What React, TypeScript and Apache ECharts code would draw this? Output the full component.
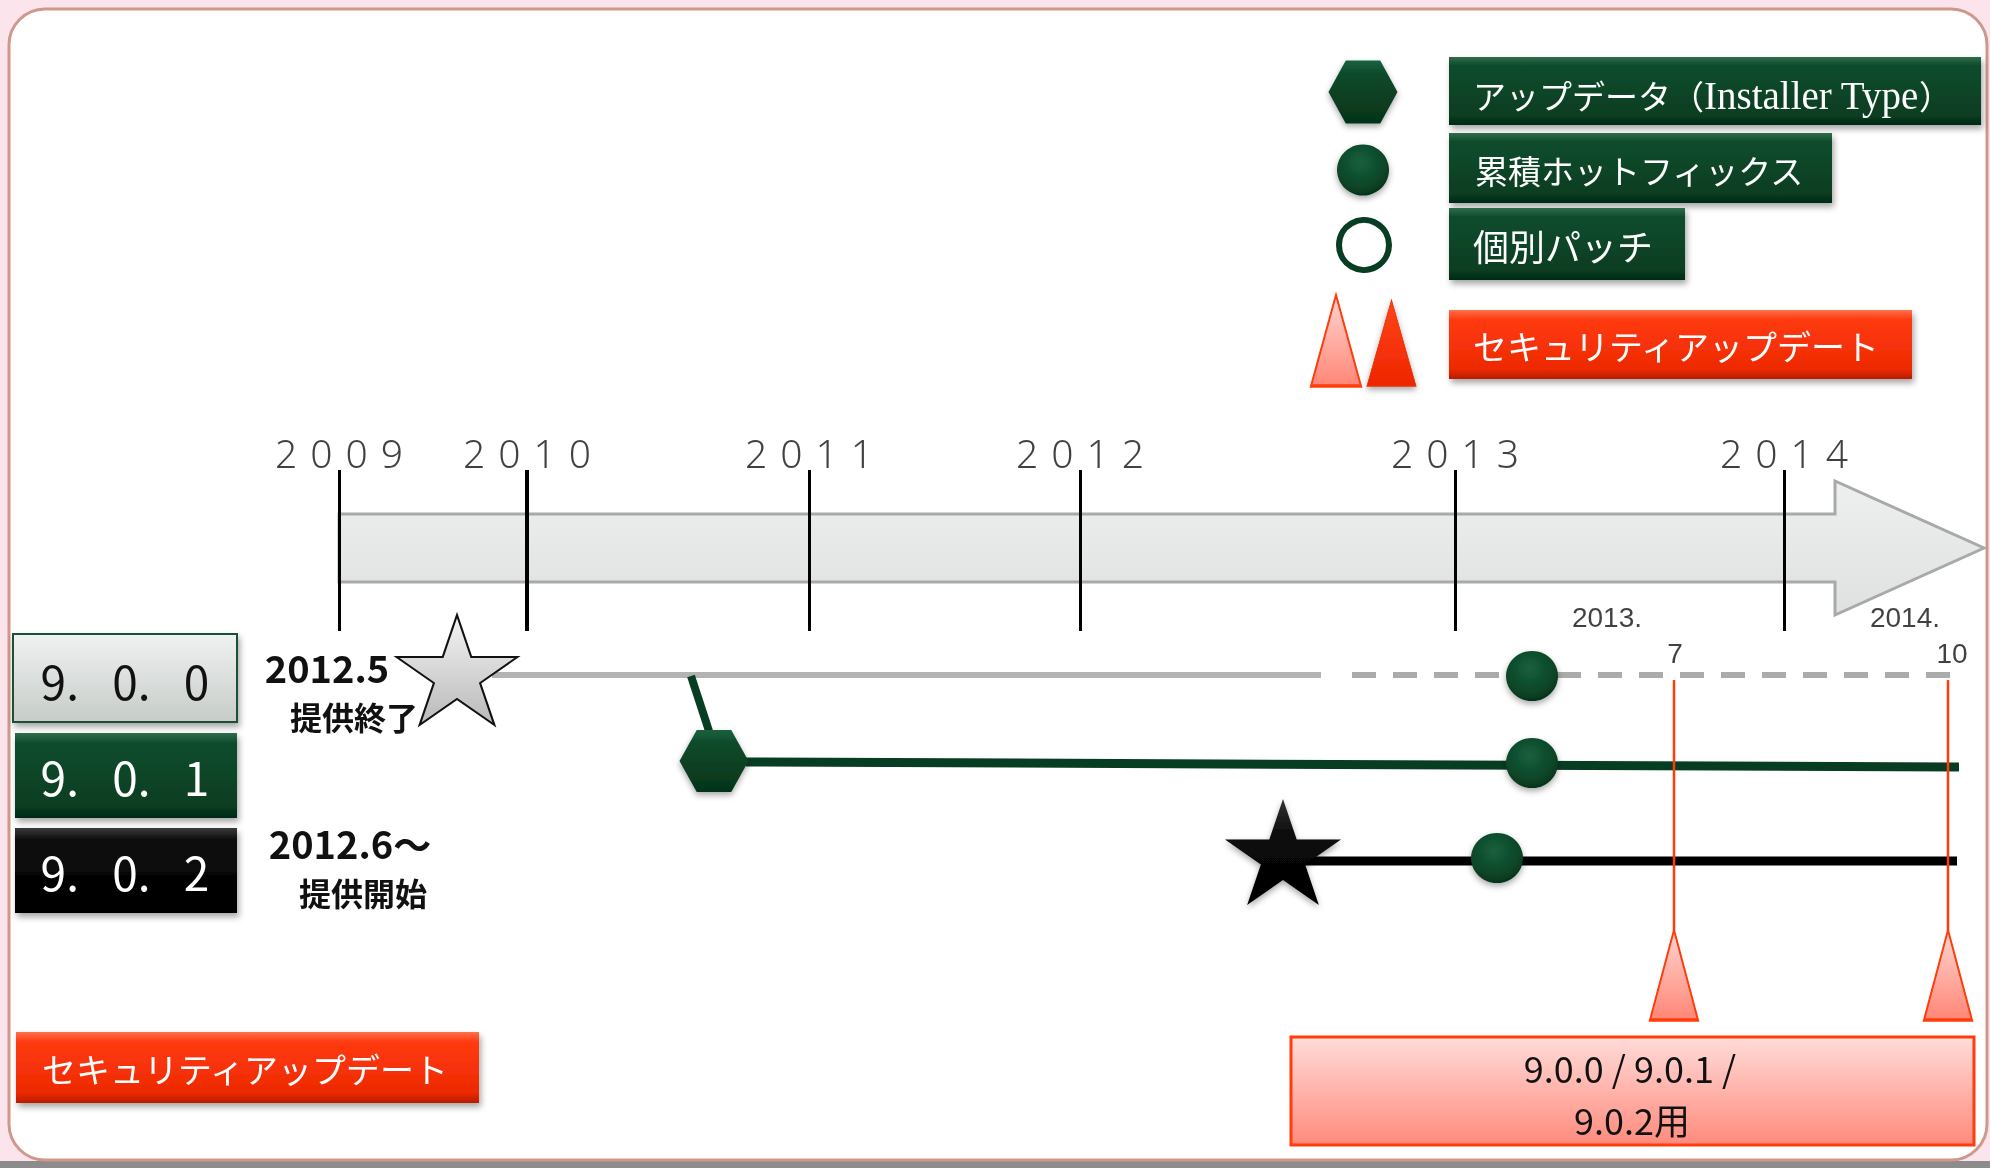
import React, { useEffect, useRef } from "react";
import * as echarts from "echarts";

// ---------- data ----------
const years = ["2009", "2010", "2011", "2012", "2013", "2014"];
const yearX = [339, 527, 809, 1080, 1455, 1784];
const yearTickWidth = [3, 4, 3, 3, 3, 3];

const versions = ["9.0.0", "9.0.1", "9.0.2"];
const versionText = ["9.\u2002 0.\u2002 0", "9.\u2002 0.\u2002 1", "9.\u2002 0.\u2002 2"];

// timeline lines per version (timeline position, row position)
const line900Solid = [[492, 675], [1321, 675]];
const line900Dashed = [[1352, 675], [1955, 675]];
const line901Branch = [[691, 676], [709, 731]];
const line901 = [[746, 762], [1959, 767]];
const line902 = [[1300, 861], [1957, 861]];

const installerPoints = [[714, 761]];
const hotfixPoints = [[1532, 676], [1532, 763], [1497, 858]];
const endStar = [[457, 670]];
const startStar = [[1283, 852]];

const securityX = [1674, 1948];
const securityYears = ["2013.", "2014."];
const securityMonths = ["7", "10"];

const legendLabels = ["アップデータ（Installer Type）", "累積ホットフィックス", "個別パッチ", "セキュリティアップデート"];
const notes = ["2012.5", "提供終了", "2012.6～", "提供開始"];
const targetLines = ["9.0.0 / 9.0.1 /", "9.0.2用"];

// ---------- styling helpers ----------
const FONT_JP = "'Noto Sans CJK JP', 'Noto Sans', sans-serif";
const W = 1990;
const H = 1168;

const lin = (stops: [number, string][]) =>
  new echarts.graphic.LinearGradient(0, 0, 0, 1, stops.map(([offset, color]) => ({ offset, color })));

const greenGrad = () =>
  lin([[0, "#2f6e4c"], [0.12, "#0f4c2d"], [0.85, "#083e22"], [1, "#042a16"]]);
const redGrad = () =>
  lin([[0, "#ff7048"], [0.14, "#ff3a12"], [0.85, "#ee2a00"], [1, "#b81c00"]]);
const blackGrad = () => lin([[0, "#3a3a3a"], [0.14, "#0c0c0c"], [1, "#000000"]]);
const lightGrad = () => lin([[0, "#f0f2f1"], [1, "#c6ccc8"]]);
const pinkGrad = () => lin([[0, "#ffdcd9"], [1, "#ff8a7c"]]);

const hexPath = "path://M0,29L17,0L51,0L68,29L51,58L17,58Z";
const starPath =
  "path://M50,0L61.23,34.55L97.55,34.55L68.16,55.9L79.39,90.45L50,69.1L20.61,90.45L31.84,55.9L2.45,34.55L38.77,34.55Z";

const txt = (
  text: string,
  x: number,
  y: number,
  size: number,
  fill: string,
  opts: any = {}
) => ({
  type: "text",
  x,
  y,
  z: 20,
  silent: true,
  style: {
    text,
    fill,
    fontSize: size,
    fontFamily: opts.family || FONT_JP,
    fontWeight: opts.weight || "normal",
    textAlign: opts.align || "center",
    align: opts.align || "center",
    textVerticalAlign: "middle",
    verticalAlign: "middle",
  },
});

const box = (x: number, y: number, w: number, h: number, fill: any, extra: any = {}) => ({
  type: "rect",
  z: 10,
  silent: true,
  shape: { x, y, width: w, height: h },
  style: {
    fill,
    shadowBlur: 6,
    shadowOffsetX: 2,
    shadowOffsetY: 4,
    shadowColor: "rgba(0,0,0,0.35)",
    ...extra,
  },
});

export default function App() {
  const ref = useRef<HTMLDivElement>(null);

  useEffect(() => {
    if (!ref.current) return;
    const chart = echarts.init(ref.current, undefined, { renderer: "svg" });

    const graphic: any[] = [
      // page background & frame
      { type: "rect", z: 0, silent: true, shape: { x: 0, y: 0, width: W, height: H }, style: { fill: "#fbe4ec" } },
      { type: "rect", z: 0, silent: true, shape: { x: 0, y: 1161, width: W, height: 7 }, style: { fill: "#8c8c8c" } },
      {
        type: "rect",
        z: 0,
        silent: true,
        shape: { x: 9, y: 9, width: 1978, height: 1151, r: 36 },
        style: { fill: "#ffffff", stroke: "#cf988a", lineWidth: 3 },
      },
      // timeline arrow
      {
        type: "polygon",
        z: 1,
        silent: true,
        shape: {
          points: [
            [339, 514],
            [1835, 514],
            [1835, 481],
            [1984, 548],
            [1835, 615],
            [1835, 582],
            [339, 582],
          ],
        },
        style: { fill: lin([[0, "#eef0ef"], [1, "#dfe1e0"]]), stroke: "#a8aaa9", lineWidth: 3 },
      },
      // legend boxes
      box(1449, 57, 532, 68, greenGrad()),
      box(1449, 133, 383, 70, greenGrad()),
      box(1449, 208, 236, 72, greenGrad()),
      box(1449, 310, 463, 69, redGrad()),
      {
        type: "text",
        x: 1473,
        y: 95,
        z: 20,
        silent: true,
        style: {
          text: "{a|アップデータ（}{b|Installer Type}{a|）}",
          textAlign: "left",
          align: "left",
          textVerticalAlign: "middle",
          verticalAlign: "middle",
          rich: {
            a: { fontSize: 33, fontFamily: FONT_JP, fill: "#ffffff", color: "#ffffff" },
            b: { fontSize: 39, fontFamily: "'Liberation Serif', serif", fill: "#ffffff", color: "#ffffff" },
          },
        },
      },
      txt(legendLabels[1], 1475, 170, 33, "#ffffff", { align: "left" }),
      txt(legendLabels[2], 1473, 245, 36, "#ffffff", { align: "left" }),
      txt(legendLabels[3], 1473, 345, 34, "#ffffff", { align: "left" }),
      // version boxes
      box(13, 634, 224, 88, lightGrad(), { stroke: "#1f4f35", lineWidth: 2 }),
      box(15, 733, 222, 85, greenGrad()),
      box(15, 828, 222, 85, blackGrad()),
      txt(versionText[0], 125, 680, 46, "#111111"),
      txt(versionText[1], 125, 776, 46, "#ffffff"),
      txt(versionText[2], 125, 871, 46, "#ffffff"),
      // notes
      txt(notes[0], 327, 666, 38, "#111111", { weight: "bold" }),
      txt(notes[1], 354, 716, 32, "#111111", { weight: "bold" }),
      txt(notes[2], 350, 842, 38, "#111111", { weight: "bold" }),
      txt(notes[3], 363, 892, 32, "#111111", { weight: "bold" }),
      // bottom-left security update
      box(16, 1032, 463, 71, redGrad()),
      txt(legendLabels[3], 245, 1068, 34, "#ffffff"),
      // bottom-right target box
      box(1291, 1037, 683, 108, pinkGrad(), { stroke: "#ff3d0a", lineWidth: 3, shadowBlur: 0, shadowOffsetX: 0, shadowOffsetY: 0 }),
      txt(targetLines[0], 1630, 1067, 36, "#111111"),
      txt(targetLines[1], 1632, 1119, 36, "#111111"),
    ];

    const lineSeries = (name: string, data: number[][], color: string, width: number, type: any = "solid") => ({
      name,
      type: "line",
      data,
      z: 2,
      symbol: "none",
      silent: true,
      lineStyle: { color, width, type, cap: "butt" },
    });

    const markerShadow = { shadowBlur: 6, shadowColor: "rgba(0,0,0,0.35)", shadowOffsetY: 3 };
    const dotColor = {
      type: "radial",
      x: 0.45,
      y: 0.35,
      r: 0.7,
      colorStops: [
        { offset: 0, color: "#17603e" },
        { offset: 0.7, color: "#0a4526" },
        { offset: 1, color: "#042e18" },
      ],
    };
    const hexColor = () => lin([[0, "#1a6240"], [0.22, "#0c4a2a"], [1, "#053419"]]);
    const scatterBase = { type: "scatter", silent: true, z: 10 };

    const option: any = {
      animation: false,
      backgroundColor: "transparent",
      grid: { left: 0, right: 0, top: 0, bottom: 0, containLabel: false },
      xAxis: { type: "value", min: 0, max: W, show: false },
      yAxis: { type: "value", min: 0, max: H, inverse: true, show: false },
      graphic,
      series: [
        {
          name: "years",
          type: "line",
          data: [],
          silent: true,
          z: 3,
          markLine: {
            silent: true,
            symbol: ["none", "none"],
            label: { show: false },
            data: yearX.map((x, i) => [
              { coord: [x, 470], lineStyle: { color: "#000", width: yearTickWidth[i], type: "solid" } },
              { coord: [x, 631] },
            ]),
          },
        },
        {
          ...scatterBase,
          name: "yearLabels",
          symbol: "circle",
          symbolSize: 1,
          itemStyle: { color: "rgba(0,0,0,0)" },
          label: {
            show: true,
            position: "inside",
            formatter: "{b}",
            color: "#111111",
            fontSize: 39,
            fontWeight: 300,
            fontFamily: "'Noto Sans', sans-serif",
          },
          data: years.map((y, i) => ({ name: y.split("").join("\u2004"), value: [yearX[i], 452] })),
        },
        lineSeries("9.0.0", line900Solid, "#b1b4b2", 6),
        lineSeries("9.0.0 (extended)", line900Dashed, "#a9aca9", 6, [24, 17]),
        lineSeries("9.0.1 branch", line901Branch, "#073d22", 8),
        lineSeries("9.0.1", line901, "#073d22", 9),
        lineSeries("9.0.2", line902, "#000000", 9),
        ...securityX.map((x, i) => lineSeries("security" + i, [[x, 680], [x, 931]], "#ff3c0a", 2.5)),
        {
          ...scatterBase,
          name: "securityTriangles",
          symbol: "triangle",
          symbolSize: [48, 90],
          itemStyle: {
            opacity: 1,
            color: { type: "linear", x: 0, y: 0, x2: 0, y2: 1, colorStops: [{ offset: 0, color: "#ffd6d2" }, { offset: 1, color: "#ff8676" }] },
            borderColor: "#ff3c0a",
            borderWidth: 2.5,
          },
          data: securityX.map((x) => [x, 975]),
        },
        {
          ...scatterBase,
          name: "securityLabels",
          symbolSize: 1,
          itemStyle: { color: "rgba(0,0,0,0)" },
          label: { show: true, position: "inside", formatter: "{b}", color: "#111", fontSize: 28, fontFamily: "'Liberation Sans', sans-serif" },
          data: [
            ...securityYears.map((t, i) => ({ name: t, value: [[1607, 1905][i], 617] })),
            ...securityMonths.map((t, i) => ({ name: t, value: [[1675, 1952][i], 653] })),
          ],
        },
        {
          ...scatterBase,
          name: "installer",
          symbol: hexPath,
          symbolSize: [69, 62],
          itemStyle: { opacity: 1, color: hexColor(), ...markerShadow },
          data: installerPoints,
        },
        {
          ...scatterBase,
          name: "hotfix",
          symbol: "circle",
          symbolSize: [52, 50],
          itemStyle: { opacity: 1, color: dotColor, ...markerShadow },
          data: hotfixPoints,
        },
        {
          ...scatterBase,
          name: "end",
          symbol: starPath,
          symbolSize: [121, 110],
          itemStyle: { opacity: 1, color: lin([[0, "#f4f4f4"], [1, "#b9b9b9"]]), borderColor: "#111", borderWidth: 2 },
          data: endStar,
        },
        {
          ...scatterBase,
          name: "start",
          symbol: starPath,
          symbolSize: [116, 106],
          itemStyle: { opacity: 1, color: lin([[0, "#333333"], [0.35, "#0a0a0a"], [1, "#000000"]]), ...markerShadow },
          data: startStar,
        },
        // legend markers
        {
          ...scatterBase,
          name: "legendHex",
          symbol: hexPath,
          symbolSize: [69, 63],
          itemStyle: { opacity: 1, color: hexColor(), ...markerShadow },
          data: [[1363, 92]],
        },
        {
          ...scatterBase,
          name: "legendDot",
          symbol: "circle",
          symbolSize: [52, 51],
          itemStyle: { opacity: 1, color: dotColor, ...markerShadow },
          data: [[1363, 170]],
        },
        {
          ...scatterBase,
          name: "legendRing",
          symbol: "circle",
          symbolSize: 50,
          itemStyle: { opacity: 1, color: "#ffffff", borderColor: "#073d22", borderWidth: 6 },
          data: [[1364, 245]],
        },
        {
          ...scatterBase,
          name: "legendTriLight",
          symbol: "triangle",
          symbolSize: [50, 91],
          itemStyle: {
            opacity: 1,
            color: { type: "linear", x: 0, y: 0, x2: 0, y2: 1, colorStops: [{ offset: 0, color: "#ffd6d2" }, { offset: 1, color: "#ff8676" }] },
            borderColor: "#ff3c0a",
            borderWidth: 2.5,
          },
          data: [[1336, 340.5]],
        },
        {
          ...scatterBase,
          name: "legendTriRed",
          symbol: "triangle",
          symbolSize: [49, 86],
          itemStyle: {
            opacity: 1,
            color: { type: "linear", x: 0, y: 0, x2: 0, y2: 1, colorStops: [{ offset: 0, color: "#ff4418" }, { offset: 1, color: "#ee2600" }] },
            borderColor: "#e63000",
            borderWidth: 1,
            ...markerShadow,
          },
          data: [[1391.5, 343]],
        },
      ],
    };

    chart.setOption(option);
    return () => chart.dispose();
  }, []);

  return (
    <div
      ref={ref}
      aria-label={versions.join(", ")}
      style={{ position: "fixed", left: 0, top: 0, width: W, height: H }}
    />
  );
}
